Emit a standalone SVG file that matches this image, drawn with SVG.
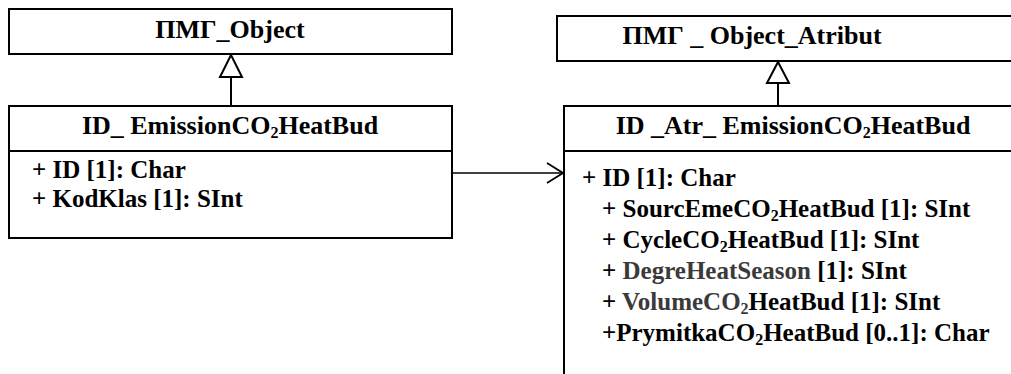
<svg xmlns="http://www.w3.org/2000/svg" width="1011" height="374" viewBox="0 0 1011 374">
  <defs>
    <!-- open arrowhead for the association -->
    <marker id="open-arrow" viewBox="0 0 18 22" refX="17" refY="11" markerWidth="18" markerHeight="22" markerUnits="userSpaceOnUse" orient="auto">
      <path d="M1,1 L17,11 L1,21" fill="none" stroke="#000" stroke-width="1.8"/>
    </marker>
  </defs>
  <rect width="1011" height="374" fill="#fff"/>

  <!-- base class of the object -->
  <g id="pmg-object">
    <rect x="9" y="9" width="443" height="45" fill="#fff" stroke="#000" stroke-width="2"/>
    <text x="230" y="38" font-family="'Liberation Serif', 'Times New Roman', serif" font-weight="bold" font-size="26" text-anchor="middle">ПМГ_Object</text>
  </g>

  <!-- base class of the attribute set -->
  <g id="pmg-object-atribut">
    <rect x="557" y="16" width="470" height="45" fill="#fff" stroke="#000" stroke-width="2"/>
    <text x="752" y="44" font-family="'Liberation Serif', 'Times New Roman', serif" font-weight="bold" font-size="26" text-anchor="middle">ПМГ _ Object_Atribut</text>
  </g>

  <!-- emission object class -->
  <g id="id-emission">
    <rect x="9" y="106" width="443" height="132" fill="#fff" stroke="#000" stroke-width="2"/>
    <line x1="9" y1="151" x2="452" y2="151" stroke="#000" stroke-width="2"/>
    <text x="230" y="134" font-family="'Liberation Serif', 'Times New Roman', serif" font-weight="bold" font-size="26" text-anchor="middle">ID_ EmissionCO<tspan font-size="16" dy="4">2</tspan><tspan dy="-4">HeatBud</tspan></text>
    <text x="32" y="178" font-family="'Liberation Serif', 'Times New Roman', serif" font-weight="bold" font-size="25">+ ID [1]: Char</text>
    <text x="32" y="207" font-family="'Liberation Serif', 'Times New Roman', serif" font-weight="bold" font-size="25">+ KodKlas [1]: SInt</text>
  </g>

  <!-- emission attribute class -->
  <g id="id-atr-emission">
    <rect x="564" y="106" width="470" height="290" fill="#fff" stroke="#000" stroke-width="2"/>
    <line x1="564" y1="151" x2="1011" y2="151" stroke="#000" stroke-width="2"/>
    <text x="793" y="134" font-family="'Liberation Serif', 'Times New Roman', serif" font-weight="bold" font-size="26" text-anchor="middle">ID _Atr_ EmissionCO<tspan font-size="16" dy="4">2</tspan><tspan dy="-4">HeatBud</tspan></text>
    <text x="582" y="186" font-family="'Liberation Serif', 'Times New Roman', serif" font-weight="bold" font-size="25">+ ID [1]: Char</text>
    <text x="602" y="217" font-family="'Liberation Serif', 'Times New Roman', serif" font-weight="bold" font-size="25">+ SourcEmeCO<tspan font-size="16" dy="4">2</tspan><tspan dy="-4">HeatBud [1]: SInt</tspan></text>
    <text x="602" y="248" font-family="'Liberation Serif', 'Times New Roman', serif" font-weight="bold" font-size="25">+ CycleCO<tspan font-size="16" dy="4">2</tspan><tspan dy="-4">HeatBud [1]: SInt</tspan></text>
    <text x="602" y="279" font-family="'Liberation Serif', 'Times New Roman', serif" font-weight="bold" font-size="25">+ <tspan fill="#3a3a3a">DegreHeatSeason</tspan> [1]: SInt</text>
    <text x="602" y="310" font-family="'Liberation Serif', 'Times New Roman', serif" font-weight="bold" font-size="25">+ <tspan fill="#3a3a3a">VolumeCO</tspan><tspan font-size="16" fill="#3a3a3a" dy="4">2</tspan><tspan dy="-4">HeatBud [1]: SInt</tspan></text>
    <text x="602" y="341" font-family="'Liberation Serif', 'Times New Roman', serif" font-weight="bold" font-size="25">+PrymitkaCO<tspan font-size="16" dy="4">2</tspan><tspan dy="-4">HeatBud [0..1]: Char</tspan></text>
  </g>

  <!-- connectors: two generalizations and one association -->
  <g id="connectors" stroke="#000" stroke-width="2">
    <line x1="231" y1="77" x2="231" y2="106"/>
    <polygon points="231,55 220,77 242,77" fill="#fff"/>
    <line x1="778" y1="83" x2="778" y2="106"/>
    <polygon points="778,62 767,83 789,83" fill="#fff"/>
    <line x1="452" y1="173" x2="563" y2="173" stroke-width="1.6" marker-end="url(#open-arrow)"/>
  </g>
</svg>
